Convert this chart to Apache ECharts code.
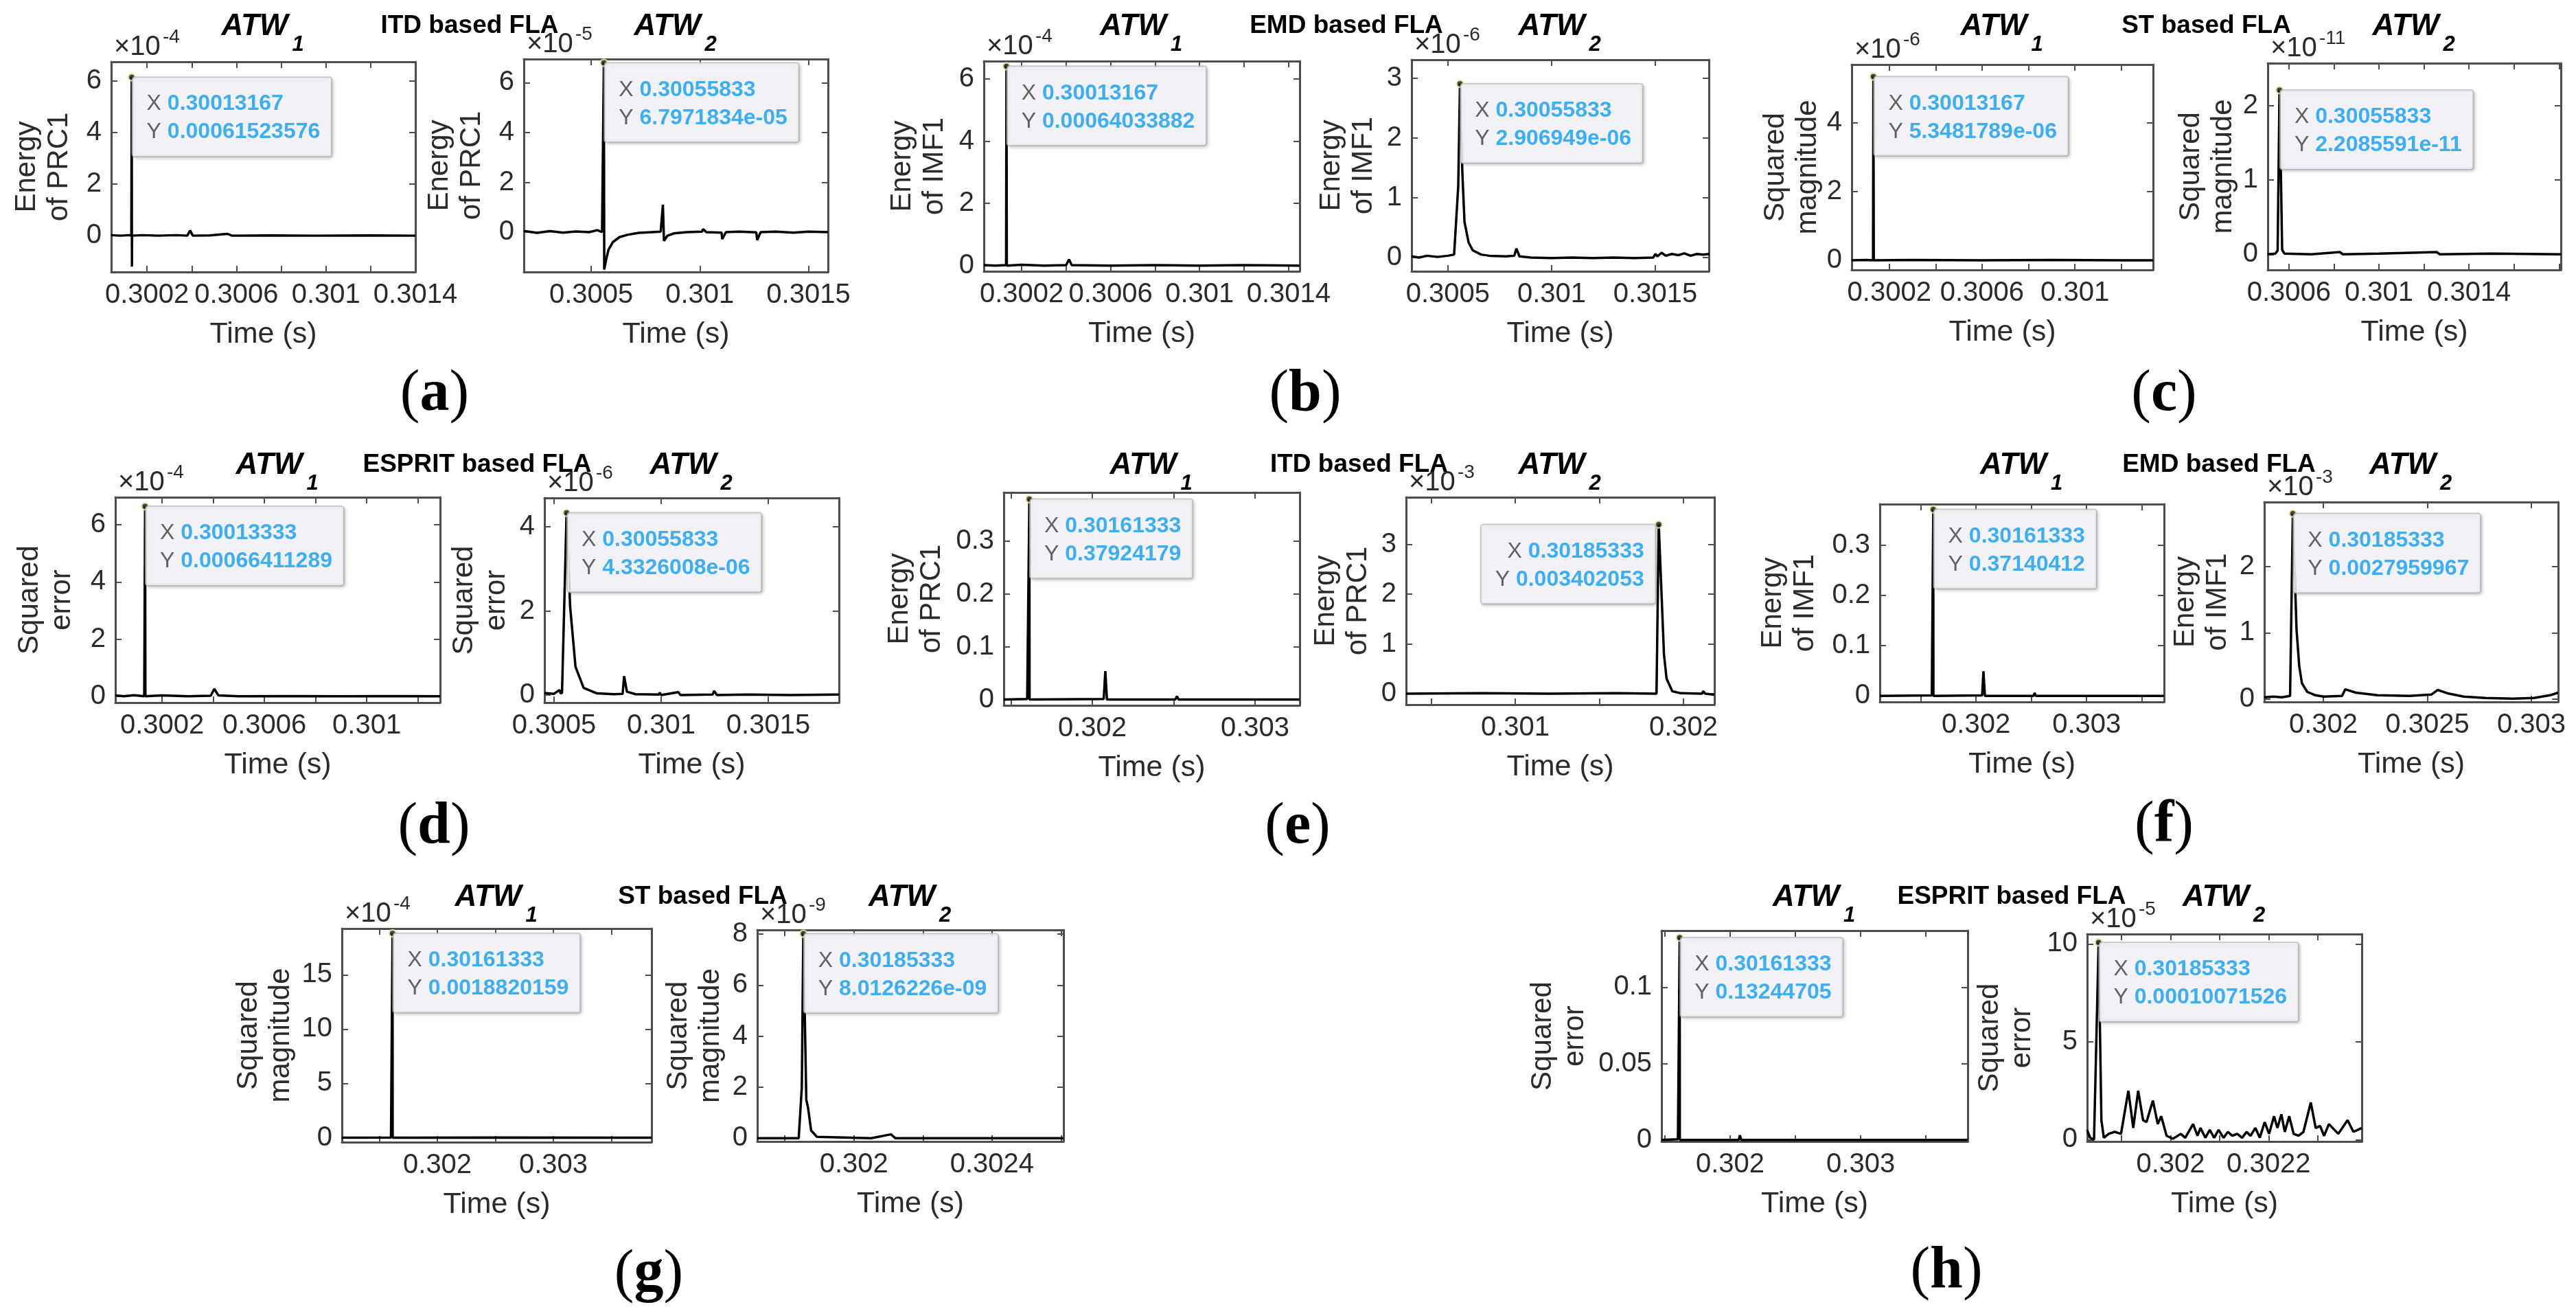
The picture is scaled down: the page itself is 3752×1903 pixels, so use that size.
<!DOCTYPE html>
<html><head><meta charset="utf-8">
<script src="https://cdn.jsdelivr.net/npm/echarts@6/dist/echarts.min.js"></script>
<style>html,body{margin:0;padding:0;background:#fff}#c{width:3752px;height:1903px}</style>
</head><body><div id="c"></div>
<script>
// ================= DATA (y in axis display units) =================
const aL = [[0.30004,0.02],[0.30008,0.0],[0.30012,0.02],[0.30013,0.0],[0.30013167,6.1523576],[0.3001325,-1.2],[0.3001333,0.0],[0.30018,0.02],[0.30025,0.0],[0.30033,0.02],[0.30038,0.0],[0.300393,0.2],[0.300405,0.0],[0.30048,0.01],[0.30056,0.07],[0.30058,0.0],[0.30075,0.01],[0.30095,0.0],[0.3012,0.01],[0.3014,0.0]];
const aR = [[0.30019,0.05],[0.30025,-0.03],[0.30031,0.04],[0.30037,-0.02],[0.30043,0.03],[0.30049,0.0],[0.300528,0.08],[0.30055,0.0],[0.30055833,6.7971834],[0.30056,-1.5],[0.30057,-1.05],[0.30058,-0.7],[0.3006,-0.4],[0.30063,-0.2],[0.30067,-0.1],[0.30072,-0.03],[0.30078,0.0],[0.30082,0.02],[0.30083,1.1],[0.300835,-0.35],[0.30085,-0.15],[0.30088,-0.05],[0.30094,0.0],[0.30101,0.02],[0.301015,0.12],[0.30103,0.0],[0.3011,-0.02],[0.301103,-0.28],[0.30112,0.0],[0.30118,0.02],[0.30126,-0.01],[0.301264,-0.32],[0.30128,0.0],[0.30135,0.02],[0.30143,-0.02],[0.3015,0.02],[0.30159,0.0]];
const bL = [[0.30003,0.02],[0.30008,0.0],[0.30013,0.02],[0.30013167,6.4033882],[0.3001333,0.0],[0.3002,0.03],[0.3003,0.0],[0.3004,0.02],[0.300413,0.2],[0.300425,0.02],[0.3006,0.0],[0.3008,0.02],[0.301,0.0],[0.3012,0.02],[0.30145,0.0]];
const bR = [[0.300325,0.02],[0.30036,0.0],[0.3004,0.03],[0.30045,0.01],[0.3005,0.03],[0.30053,0.05],[0.30055,1.2],[0.30055833,2.906949],[0.30057,1.4],[0.30058,0.6],[0.3006,0.25],[0.30062,0.12],[0.30066,0.05],[0.3007,0.03],[0.30078,0.02],[0.30082,0.03],[0.30083,0.15],[0.300845,0.02],[0.3009,0.0],[0.301,-0.01],[0.3011,0.0],[0.3012,-0.01],[0.3013,0.0],[0.3014,-0.01],[0.30149,0.0],[0.3015,0.06],[0.30151,0.02],[0.30153,0.08],[0.30155,0.03],[0.30158,0.06],[0.30161,0.04],[0.30164,0.07],[0.30167,0.03],[0.3017,0.06],[0.30173,0.05],[0.30176,0.06]];
const cL = [[0.300038,0.0],[0.3001,0.01],[0.30013,0.0],[0.30013167,5.3481789],[0.3001333,0.0],[0.3003,0.01],[0.3006,0.0],[0.3009,0.01],[0.3012,0.0],[0.301337,0.0]];
const cR = [[0.300506,0.0],[0.30054,0.01],[0.30055,0.05],[0.30055833,2.2085591],[0.30057,0.06],[0.30058,0.01],[0.3007,0.0],[0.300826,0.03],[0.30084,0.0],[0.301,0.01],[0.301256,0.03],[0.30127,0.0],[0.3015,0.01],[0.30181,0.0]];
const dL = [[0.300017,0.03],[0.30005,0.0],[0.30009,0.04],[0.30013,0.0],[0.30013333,6.6411289],[0.3001345,0.0],[0.3002,0.03],[0.3003,0.0],[0.30039,0.02],[0.300404,0.26],[0.30042,0.03],[0.3005,0.0],[0.3007,0.01],[0.3009,0.0],[0.3011,0.01],[0.301287,0.0]];
const dR = [[0.300455,0.05],[0.3005,0.03],[0.300525,0.12],[0.30053,0.04],[0.300537,0.05],[0.30055833,4.3326008],[0.300575,2.1],[0.3006,0.67],[0.300638,0.17],[0.3007,0.04],[0.30078,0.02],[0.30082,0.03],[0.300827,0.45],[0.30084,0.08],[0.30088,0.02],[0.30099,0.01],[0.300993,0.06],[0.301,0.0],[0.30108,0.07],[0.30109,0.0],[0.30124,0.01],[0.301247,0.1],[0.30126,0.0],[0.3014,0.01],[0.3016,0.0],[0.30183,0.01]];
const eL = [[0.301456,0.0],[0.3016,0.001],[0.30161333,0.37924179],[0.3016145,0.0],[0.30207,0.001],[0.30208,0.054],[0.30209,0.0],[0.30251,0.0],[0.30252,0.006],[0.30253,0.0],[0.303274,0.0]];
const eR = [[0.300351,0.0],[0.3008,0.01],[0.3012,0.0],[0.3016,0.01],[0.30184,0.0],[0.30185333,3.402053],[0.3018844,0.79],[0.3019,0.3],[0.301934,0.05],[0.301984,0.01],[0.30211,0.0],[0.302118,0.05],[0.30213,0.0],[0.302184,-0.02]];
const fL = [[0.30113,0.0],[0.3016,0.001],[0.30161333,0.37140412],[0.3016145,0.0],[0.302055,0.001],[0.302067,0.049],[0.30208,0.0],[0.30252,0.0],[0.30253,0.006],[0.30254,0.0],[0.3037,0.0]];
const fR = [[0.301716,0.03],[0.30176,0.04],[0.3018,0.03],[0.30184,0.05],[0.30185333,2.7959967],[0.301871,1.05],[0.301884,0.5],[0.301897,0.24],[0.301923,0.11],[0.301962,0.06],[0.302001,0.04],[0.30209,0.05],[0.302105,0.15],[0.302156,0.1],[0.30226,0.06],[0.302416,0.05],[0.302519,0.07],[0.30255,0.14],[0.302597,0.09],[0.302675,0.04],[0.302779,0.02],[0.302909,0.01],[0.303012,0.02],[0.30309,0.06],[0.303129,0.1]];
const gL = [[0.301177,0.0],[0.3016,0.02],[0.30161333,18.820159],[0.3016145,0.0],[0.3025,0.02],[0.303846,0.0]];
const gR = [[0.30172,0.0],[0.30184,0.0],[0.301849,2.0],[0.30185333,8.0126226],[0.301862,1.5],[0.301867,1.2],[0.301876,0.3],[0.301893,0.05],[0.30205,0.0],[0.302107,0.15],[0.30212,0.0],[0.302607,0.0]];
const hL = [[0.301474,0.0],[0.3016,0.0005],[0.30161333,0.13244705],[0.3016145,0.0],[0.302065,0.0],[0.302075,0.003],[0.302085,0.0],[0.30382,0.0]];
const hR = [[0.30183,0.5],[0.301836,0.1],[0.301844,0.0],[0.30185333,10.071526],[0.301859,1.0],[0.301864,0.1],[0.301874,0.3],[0.301886,0.4],[0.301899,0.3],[0.301914,2.5],[0.301924,0.6],[0.301934,2.5],[0.301944,1.0],[0.301951,0.9],[0.301964,2.0],[0.301974,0.8],[0.301981,1.2],[0.301992,0.2],[0.302005,0.05],[0.302021,0.3],[0.30203,0.1],[0.302046,0.8],[0.302055,0.2],[0.302061,0.6],[0.302071,0.1],[0.30208,0.5],[0.302089,0.1],[0.302098,0.5],[0.302108,0.1],[0.302117,0.4],[0.302126,0.2],[0.302136,0.3],[0.302146,0.1],[0.302155,0.4],[0.302163,0.2],[0.302173,0.6],[0.302182,0.1],[0.302192,0.9],[0.302201,0.3],[0.302211,1.2],[0.302218,0.6],[0.302226,1.3],[0.302233,0.4],[0.302242,1.2],[0.302251,0.3],[0.302261,0.2],[0.302271,0.4],[0.302286,1.9],[0.302296,0.6],[0.302305,0.7],[0.302313,0.2],[0.302323,0.8],[0.302342,0.3],[0.302361,1.0],[0.302373,0.4],[0.30239,0.6]];

// data tips (text exactly as shown)
const tipX = {aL:'0.30013167',aR:'0.30055833',bL:'0.30013167',bR:'0.30055833',cL:'0.30013167',cR:'0.30055833',dL:'0.30013333',dR:'0.30055833',eL:'0.30161333',eR:'0.30185333',fL:'0.30161333',fR:'0.30185333',gL:'0.30161333',gR:'0.30185333',hL:'0.30161333',hR:'0.30185333'};
const tipY = {aL:'0.00061523576',aR:'6.7971834e-05',bL:'0.00064033882',bR:'2.906949e-06',cL:'5.3481789e-06',cR:'2.2085591e-11',dL:'0.00066411289',dR:'4.3326008e-06',eL:'0.37924179',eR:'0.003402053',fL:'0.37140412',fR:'0.0027959967',gL:'0.0018820159',gR:'8.0126226e-09',hL:'0.13244705',hR:'0.00010071526'};
// axis exponent (×10^n), null = none
const yExp = {aL:-4,aR:-5,bL:-4,bR:-6,cL:-6,cR:-11,dL:-4,dR:-6,eL:null,eR:-3,fL:null,fR:-3,gL:-4,gR:-9,hL:null,hR:-5};
// axis limits
const xLim = {aL:[0.30004,0.3014],aR:[0.30019,0.30159],bL:[0.30003,0.30145],bR:[0.300325,0.301758],cL:[0.300038,0.301337],cR:[0.300506,0.301808],dL:[0.300017,0.301287],dR:[0.300455,0.30183],eL:[0.301456,0.303274],eR:[0.300351,0.302184],fL:[0.30113,0.3037],fR:[0.301716,0.303129],gL:[0.301177,0.303846],gR:[0.30172,0.302607],hL:[0.301474,0.30382],hR:[0.30183,0.30239]};
const yLim = {aL:[-1.41,6.75],aR:[-1.6,6.95],bL:[-0.18,6.57],bR:[-0.23,3.31],cL:[-0.28,5.7],cR:[-0.21,2.57],dL:[-0.22,6.96],dR:[-0.18,4.69],eL:[-0.011,0.392],eR:[-0.22,3.95],fL:[-0.012,0.382],fR:[-0.04,2.97],gL:[-0.41,19.26],gR:[-0.13,8.16],hL:[-0.001,0.137],hR:[-0.09,10.5]};
// tick marks and tick labels
const xTicks = {aL:[0.3002,0.3004,0.3006,0.3008,0.301,0.3012,0.3014],aR:[0.3005,0.301,0.3015],bL:[0.3002,0.3004,0.3006,0.3008,0.301,0.3012,0.3014],bR:[0.3005,0.301,0.3015],cL:[0.3002,0.3004,0.3006,0.3008,0.301,0.3012],cR:[0.3006,0.3008,0.301,0.3012,0.3014,0.3016,0.3018],dL:[0.3002,0.3004,0.3006,0.3008,0.301,0.3012],dR:[0.3005,0.301,0.3015],eL:[0.3015,0.302,0.3025,0.303],eR:[0.3005,0.301,0.3015,0.302],fL:[0.3015,0.302,0.3025,0.303,0.3035],fR:[0.302,0.3025,0.303],gL:[0.3015,0.302,0.3025,0.303,0.3035],gR:[0.3018,0.302,0.3022,0.3024,0.3026],hL:[0.3015,0.302,0.3025,0.303,0.3035],hR:[0.3019,0.302,0.3021,0.3022,0.3023]};
const xLabels = {aL:['0.3002','0.3006','0.301','0.3014'],aR:['0.3005','0.301','0.3015'],bL:['0.3002','0.3006','0.301','0.3014'],bR:['0.3005','0.301','0.3015'],cL:['0.3002','0.3006','0.301'],cR:['0.3006','0.301','0.3014'],dL:['0.3002','0.3006','0.301'],dR:['0.3005','0.301','0.3015'],eL:['0.302','0.303'],eR:['0.301','0.302'],fL:['0.302','0.303'],fR:['0.302','0.3025','0.303'],gL:['0.302','0.303'],gR:['0.302','0.3024'],hL:['0.302','0.303'],hR:['0.302','0.3022']};
const yLabels = {aL:['0','2','4','6'],aR:['0','2','4','6'],bL:['0','2','4','6'],bR:['0','1','2','3'],cL:['0','2','4'],cR:['0','1','2'],dL:['0','2','4','6'],dR:['0','2','4'],eL:['0','0.1','0.2','0.3'],eR:['0','1','2','3'],fL:['0','0.1','0.2','0.3'],fR:['0','1','2'],gL:['0','5','10','15'],gR:['0','2','4','6','8'],hL:['0','0.05','0.1'],hR:['0','5','10']};
// text
const yNames = {aL:'Energy\nof PRC1',aR:'Energy\nof PRC1',bL:'Energy\nof IMF1',bR:'Energy\nof IMF1',cL:'Squared\nmagnitude',cR:'Squared\nmagnitude',dL:'Squared\nerror',dR:'Squared\nerror',eL:'Energy\nof PRC1',eR:'Energy\nof PRC1',fL:'Energy\nof IMF1',fR:'Energy\nof IMF1',gL:'Squared\nmagnitude',gR:'Squared\nmagnitude',hL:'Squared\nerror',hR:'Squared\nerror'};
const methods = ['ITD based FLA','EMD based FLA','ST based FLA','ESPRIT based FLA','ITD based FLA','EMD based FLA','ST based FLA','ESPRIT based FLA'];
const panelLetters = ['a','b','c','d','e','f','g','h'];
const xName = 'Time (s)';

// ================= LAYOUT / STYLE =================
const ids = ['aL','aR','bL','bR','cL','cR','dL','dR','eL','eR','fL','fR','gL','gR','hL','hR'];
const curves = {aL,aR,bL,bR,cL,cR,dL,dR,eL,eR,fL,fR,gL,gR,hL,hR};
const box = {aL:[162,90,443,306],aR:[763,86,443,310],bL:[1433,89,460,306],bR:[2056,87,433,308],cL:[2697,94,439,299],cR:[3303,92,427,301],dL:[168,724,473,299],dR:[793,725,429,298],eL:[1462,717,431,310],eR:[2048,724,449,302],fL:[2738,734,414,288],fR:[3298,731,428,291],gL:[498,1352,451,311],gR:[1103,1354,446,308],hL:[2420,1355,446,307],hR:[3040,1360,400,302]};
const nameGap = {aL:52,aR:52,bL:48,bR:46,cL:40,cR:41,dL:54,dR:46,eL:81,eR:46,fL:85,fR:44,gL:65,gR:44,hL:102,hR:71};
const rowTitleY = [39, 678, 1307];
const panelRow = [0,0,0,1,1,1,2,2];
const panelLabelPos = [[633,575],[1901,575],[3152,575],[632,1205],[1890,1205],[3152,1203],[945,1856],[2835,1852]];
const FF = "'Liberation Sans', Arial, Helvetica, sans-serif";
const AX = '#4d4d4d';
const TXT = '#2b2b2b';

function fmt(v, labs){ for (const s of labs){ if (Math.abs(parseFloat(s)-v) < 1e-9) return s; } return ''; }

const grids=[], xAxes=[], yAxes=[], series=[], graphics=[];
ids.forEach((id,i)=>{
  const [l,t,w,h] = box[id];
  grids.push({left:l, top:t, width:w, height:h, containLabel:false});
  const xl = xLabels[id], yl = yLabels[id];
  const common = {gridIndex:i, type:'value', splitLine:{show:false}, axisLine:{show:true,onZero:false,lineStyle:{color:AX,width:3}}};
  xAxes.push(Object.assign({}, common, {position:'bottom', min:xLim[id][0], max:xLim[id][1],
    axisTick:{show:true,inside:true,length:9,customValues:xTicks[id],lineStyle:{color:AX,width:2}},
    axisLabel:{show:true,customValues:xl.map(Number),formatter:v=>fmt(v,xl),margin:14,fontSize:40,color:TXT,fontFamily:FF},
    name:xName, nameLocation:'middle', nameGap:70, nameTextStyle:{fontSize:43,color:TXT,fontFamily:FF}}));
  xAxes.push(Object.assign({}, common, {position:'top', min:xLim[id][0], max:xLim[id][1],
    axisTick:{show:true,inside:true,length:9,customValues:xTicks[id],lineStyle:{color:AX,width:2}},
    axisLabel:{show:false}}));
  const yT = yl.map(Number);
  yAxes.push(Object.assign({}, common, {position:'left', min:yLim[id][0], max:yLim[id][1],
    axisTick:{show:true,inside:true,length:9,customValues:yT,lineStyle:{color:AX,width:2}},
    axisLabel:{show:true,customValues:yT,formatter:v=>fmt(v,yl),margin:14,fontSize:40,color:TXT,fontFamily:FF},
    name:yNames[id], nameLocation:'middle', nameRotate:90, nameGap:nameGap[id],
    nameTextStyle:{fontSize:42,lineHeight:47,color:TXT,fontFamily:FF}}));
  yAxes.push(Object.assign({}, common, {position:'right', min:yLim[id][0], max:yLim[id][1],
    axisTick:{show:true,inside:true,length:9,customValues:yT,lineStyle:{color:AX,width:2}},
    axisLabel:{show:false}}));
  series.push({type:'line', xAxisIndex:2*i, yAxisIndex:2*i, data:curves[id], showSymbol:false, symbol:'none',
    lineStyle:{color:'#000',width:3.5}, silent:true, clip:true});
  const e = yExp[id];
  const py = parseFloat(tipY[id]) / (e===null ? 1 : Math.pow(10,e));
  const leftSide = (id==='eR');
  series.push({type:'scatter', xAxisIndex:2*i, yAxisIndex:2*i, data:[[parseFloat(tipX[id]), py]], symbolSize:10, z:5,
    itemStyle:{color:'#111',borderColor:'#f1eea0',borderWidth:2.5},
    label:{show:true, position: leftSide ? [1,7] : [8,7], align: leftSide ? 'right':'left', verticalAlign:'top',
      formatter:'{k|X }{v|'+tipX[id]+'}\n{k|Y }{v|'+tipY[id]+'}',
      backgroundColor:'#f7f8fc', borderColor:'#c3c3c3', borderWidth:2, borderRadius:3,
      padding:[18,16,14,20], shadowColor:'rgba(0,0,0,0.18)', shadowBlur:4, shadowOffsetX:2, shadowOffsetY:2,
      rich:{k:{fontSize:32,color:'#3c3c3c',fontFamily:FF,lineHeight:41},
            v:{fontSize:32,fontWeight:'bold',color:'#0d9cf4',fontFamily:FF,lineHeight:41}}}});
  // ATW titles
  const p = Math.floor(i/2), row = panelRow[p], cx = l + w/2, ty = rowTitleY[row];
  graphics.push({type:'text', z:10, style:{text:'ATW', x:cx+36, y:ty, textAlign:'right', textVerticalAlign:'middle',
    fontSize:44, fontWeight:'bold', fontStyle:'italic', fontFamily:FF, fill:'#000'}});
  graphics.push({type:'text', z:10, style:{text:(i%2===0?'1':'2'), x:cx+42, y:ty+26, textAlign:'left', textVerticalAlign:'middle',
    fontSize:31, fontWeight:'bold', fontStyle:'italic', fontFamily:FF, fill:'#000'}});
  // exponent
  if (e !== null){
    graphics.push({type:'text', z:10, style:{text:'\u00d710', x:l+4, y:t-21, textAlign:'left', textVerticalAlign:'middle',
      fontSize:40, fontFamily:FF, fill:TXT}});
    graphics.push({type:'text', z:10, style:{text:String(e), x:l+75, y:t-36, textAlign:'left', textVerticalAlign:'middle',
      fontSize:28, fontFamily:FF, fill:TXT}});
  }
});
// method titles and panel labels
methods.forEach((m,p)=>{
  const L = box[ids[2*p]], R = box[ids[2*p+1]];
  const cx = (L[0] + R[0] + R[2]) / 2;
  graphics.push({type:'text', z:11, style:{text:m, x:cx, y:rowTitleY[panelRow[p]]-1, textAlign:'center', textVerticalAlign:'middle',
    fontSize:37, fontWeight:'bold', fontFamily:FF, fill:'#000'}});
  const [lx,ly] = panelLabelPos[p];
  graphics.push({type:'text', z:11, style:{text:'{p|(}{l|'+panelLetters[p]+'}{p|)}', x:lx, y:ly, textAlign:'center', textVerticalAlign:'middle',
    rich:{p:{fontSize:86,fontFamily:"'Liberation Serif','Times New Roman',serif",fill:'#000'},
          l:{fontSize:86,fontWeight:'bold',fontFamily:"'Liberation Serif','Times New Roman',serif",fill:'#000'}}}});
});

const chart = echarts.init(document.getElementById('c'), null, {renderer:'canvas'});
chart.setOption({animation:false, backgroundColor:'#fff', grid:grids, xAxis:xAxes, yAxis:yAxes, series:series, graphic:graphics});
</script></body></html>
